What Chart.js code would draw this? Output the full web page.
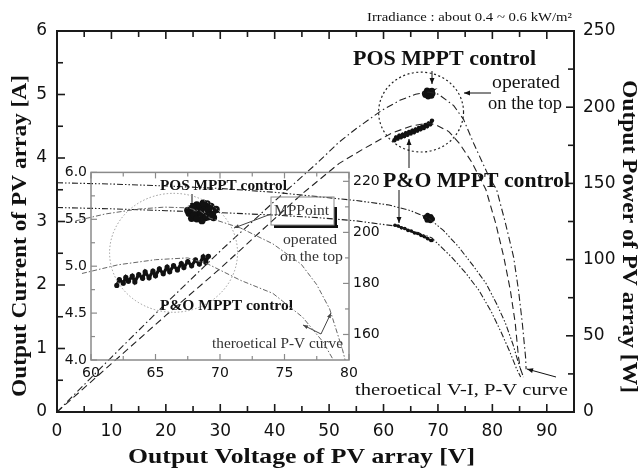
<!DOCTYPE html>
<html>
<head>
<meta charset="utf-8">
<script src="https://cdn.jsdelivr.net/npm/chart.js@4.4.1/dist/chart.umd.min.js"></script>
<style>
  html, body { margin: 0; padding: 0; background: #fff; }
  #wrap { position: relative; width: 641px; height: 468px; }
  #main { position: absolute; left: 0; top: 0; }
  #inset { position: absolute; left: 40px; top: 160px; }
</style>
</head>
<body>
<div id="wrap">
  <canvas id="main" width="641" height="468"></canvas>
  <canvas id="inset" width="350" height="230"></canvas>
</div>
<script>
// ---- values ----
// main plot: [voltage V, current A] and [voltage V, power W]
const ivPOS = [[0,3.61],[10,3.59],[20,3.56],[30,3.52],[40,3.46],[48,3.39],[55,3.33],[61,3.26],[65,3.17],[68.3,3.05],[71,2.86],[73.8,2.60],[76.5,2.30],[78.8,2.03],[80.8,1.70],[82.4,1.40],[83.8,1.06],[84.8,0.77],[85.7,0.55]];
const ivPO = [[0,3.22],[10,3.20],[20,3.17],[30,3.14],[40,3.10],[48,3.06],[55,3.01],[62,2.93],[66.5,2.82],[68.9,2.74],[72.5,2.44],[75,2.20],[77.5,1.92],[79.8,1.58],[81.7,1.24],[83.2,0.95],[84.4,0.69],[85.2,0.55]];
const pvPOS = [[0,0],[10,35.9],[20,71.2],[30,105.6],[40,138.4],[48,164],[51.8,177],[55,186],[59.7,198],[63,204.5],[65.9,208.5],[68.3,210],[70.1,208.5],[72.9,201],[74.7,192],[76.6,176],[78,165],[79.3,155],[80.8,145.7],[82.4,124],[83.9,101.7],[84.8,80],[85.5,58.4],[86.1,36],[86.2,28]];
const pvPO = [[0,0],[10,31.7],[20,63.4],[30,94.2],[37.7,119.4],[45,143],[51.8,163],[56,172],[61.5,183],[65,187.5],[68,189.5],[69.6,188.5],[72,184],[74,176],[76.2,164],[78.8,146],[80.6,124],[82.1,101.7],[83.3,80],[84.2,58.4],[84.8,36],[85.2,27.5]];

// measured operating points (main plot)
const posPower = [[67.6,209],[68.0,211],[68.6,210.5],[69.0,209],[68.8,207.5],[68.2,207],[67.7,208],[68.4,209.5],[68.9,210.8],[67.9,210],[68.5,208.3],[68.1,209.8]];
const posCurrent = [[67.7,3.07],[68.1,3.10],[68.7,3.08],[69.0,3.04],[68.6,3.01],[68.0,3.02],[68.3,3.06],[68.8,3.06],[67.9,3.05]];
const poPower = [[62.0,178.3],[62.3,180.2],[62.6,179.4],[62.9,181.3],[63.2,180.3],[63.5,182.0],[63.8,181.0],[64.1,182.9],[64.4,181.9],[64.7,183.7],[65.0,182.8],[65.3,184.6],[65.6,183.6],[65.9,185.4],[66.2,184.6],[66.5,186.4],[66.8,185.5],[67.1,187.2],[67.4,186.4],[67.7,188.3],[68.0,187.5],[68.3,189.4],[68.6,188.8],[68.9,191.2]];
const poCurrent = [[62.1,2.94],[62.7,2.93],[63.3,2.90],[63.9,2.89],[64.5,2.86],[65.1,2.85],[65.7,2.82],[66.3,2.81],[66.9,2.78],[67.5,2.76],[68.1,2.73],[68.7,2.70],[68.9,2.70]];

// inset (zoom on the power peak): [voltage V, power W]
const insetPvPOS = [[57.6,203],[58.8,204.5],[61.1,207.2],[63.6,209.1],[65.7,209.9],[67.5,209.6],[68.5,208.3],[69.2,205.6],[71.6,201.7],[74.1,195.5],[76.3,187.5],[77.5,179.5],[78.5,170],[79.5,154],[79.8,148]];
const insetPvPO = [[57.6,181.6],[59.3,183.9],[62.1,187.3],[65,189.3],[67.5,190],[69.1,187.5],[71.6,181.2],[74.1,176.1],[76.4,166.8],[78,157],[78.9,149]];
const insetPosPower = [[67.6,207.5],[68.2,210.8],[69.0,211.2],[69.7,209.0],[69.5,205.8],[68.6,204.6],[67.8,205.5],[67.5,208.6],[68.3,209.6],[69.1,208.7],[68.9,206.4],[68.0,206.9],[68.5,208.2],[67.9,209.9],[69.3,210.2],[68.7,211.5],[68.2,205.3],[69.4,207.1]];
const insetPoPower = [[62.0,179.2],[62.2,181.5],[62.5,180.1],[62.7,182.4],[62.9,180.9],[63.2,182.9],[63.4,180.6],[63.7,183.5],[64.0,182.0],[64.2,184.5],[64.5,182.2],[64.8,184.8],[65.0,183.0],[65.3,185.7],[65.6,183.8],[65.9,186.4],[66.1,184.6],[66.4,187.0],[66.7,185.3],[67.0,187.8],[67.2,186.2],[67.5,188.6],[67.8,186.9],[68.1,189.2],[68.4,187.6],[68.7,190.4],[68.9,188.3],[69.1,190.6]];

// tick labels
const voltTicks = [0, 10, 20, 30, 40, 50, 60, 70, 80, 90];
const voltMinor = [5, 15, 25, 35, 45, 55, 65, 75, 85];
const currentTicks = [0, 1, 2, 3, 4, 5, 6];
const currentMinor = [0.5, 1.5, 2.5, 3.5, 4.5, 5.5];
const powerTicks = [0, 50, 100, 150, 200, 250];
const powerMinor = [25, 75, 125, 175, 225];
const insetVoltTicks = [60, 65, 70, 75, 80];
const insetVoltMinor = [62.5, 67.5, 72.5, 77.5];
const insetLeftTicks = [4.0, 4.5, 5.0, 5.5, 6.0];
const insetLeftMinor = [4.25, 4.75, 5.25, 5.75];
const insetPowerTicks = [160, 180, 200, 220];
const insetPowerMinor = [170, 190, 210];

// ---- helpers ----
const pts = arr => arr.map(([x, y]) => ({ x, y }));

function curve(arr, axis, dash, color, width) {
  return { data: pts(arr), yAxisID: axis, showLine: true, pointRadius: 0,
    borderColor: color, borderWidth: width, borderDash: dash, fill: false, clip: { left: 40, top: 0, right: 0, bottom: 0 } };
}
function cluster(arr, axis, radius, width) {
  return { data: pts(arr), yAxisID: axis, showLine: true, pointRadius: radius,
    pointBackgroundColor: '#111', pointBorderWidth: 0, borderColor: '#111', borderWidth: width };
}

function fitText(ctx, t) {
  ctx.save();
  ctx.font = t.font;
  ctx.fillStyle = t.color || '#111';
  ctx.textBaseline = 'alphabetic';
  ctx.textAlign = 'left';
  ctx.translate(t.x, t.y);
  if (t.rot) ctx.rotate(t.rot);
  const natural = ctx.measureText(t.text).width;
  ctx.scale(t.w / natural, 1);
  ctx.fillText(t.text, 0, 0);
  ctx.restore();
}

function drawArrow(ctx, a) {
  const [x1, y1] = a.from, [x2, y2] = a.to;
  ctx.save();
  ctx.strokeStyle = ctx.fillStyle = a.color || '#111';
  ctx.lineWidth = a.width || 1;
  ctx.beginPath(); ctx.moveTo(x1, y1); ctx.lineTo(x2, y2); ctx.stroke();
  if (a.head !== false) {
    const ang = Math.atan2(y2 - y1, x2 - x1), L = a.len || 6, W = a.half || 2.5;
    ctx.beginPath();
    ctx.moveTo(x2, y2);
    ctx.lineTo(x2 - L * Math.cos(ang) + W * Math.sin(ang), y2 - L * Math.sin(ang) - W * Math.cos(ang));
    ctx.lineTo(x2 - L * Math.cos(ang) - W * Math.sin(ang), y2 - L * Math.sin(ang) + W * Math.cos(ang));
    ctx.closePath(); ctx.fill();
  }
  ctx.restore();
}

// frame + inward tick marks, placed through the chart's scales
const frameTicks = {
  id: 'frameTicks',
  afterDraw(chart, args, opts) {
    const { ctx, chartArea: a, scales } = chart;
    ctx.save();
    ctx.strokeStyle = opts.color;
    ctx.lineWidth = opts.tickWidth;
    opts.marks.forEach(m => {
      const s = scales[m.scale];
      [[m.major, opts.major], [m.minor, opts.minor]].forEach(([vals, len]) => {
        vals.forEach(v => {
          const p = s.getPixelForValue(v);
          m.edges.forEach(e => {
            ctx.beginPath();
            if (e === 'bottom') { ctx.moveTo(p, a.bottom); ctx.lineTo(p, a.bottom - len); }
            if (e === 'top') { ctx.moveTo(p, a.top); ctx.lineTo(p, a.top + len); }
            if (e === 'left') { ctx.moveTo(a.left, p); ctx.lineTo(a.left + len, p); }
            if (e === 'right') { ctx.moveTo(a.right, p); ctx.lineTo(a.right - len, p); }
            ctx.stroke();
          });
        });
      });
    });
    ctx.lineWidth = opts.frameWidth;
    ctx.strokeRect(a.left, a.top, a.right - a.left, a.bottom - a.top);
    ctx.restore();
  }
};

// dotted ellipses given in data units
const ellipses = {
  id: 'ellipses',
  afterDatasetsDraw(chart, args, opts) {
    const { ctx, scales } = chart;
    (opts.list || []).forEach(e => {
      const sx = scales[e.xScale], sy = scales[e.yScale];
      const cx = sx.getPixelForValue(e.cx), cy = sy.getPixelForValue(e.cy);
      const rx = Math.abs(sx.getPixelForValue(e.cx + e.rx) - cx);
      const ry = Math.abs(sy.getPixelForValue(e.cy + e.ry) - cy);
      ctx.save();
      ctx.strokeStyle = e.color; ctx.lineWidth = e.width; ctx.setLineDash(e.dash);
      ctx.beginPath(); ctx.ellipse(cx, cy, rx, ry, 0, 0, Math.PI * 2); ctx.stroke();
      ctx.restore();
    });
  }
};

// texts, arrows and the MPPoint box
const notes = {
  id: 'notes',
  afterDraw(chart, args, opts) {
    const ctx = chart.ctx;
    (opts.boxes || []).forEach(b => {
      ctx.save();
      ctx.fillStyle = '#111';
      ctx.fillRect(b.x + 3, b.y + b.h, b.w + 1, 3);
      ctx.fillRect(b.x + b.w, b.y + 10, 3, b.h - 7);
      ctx.strokeStyle = '#888'; ctx.lineWidth = 1;
      ctx.strokeRect(b.x, b.y, b.w, b.h);
      ctx.restore();
    });
    (opts.texts || []).forEach(t => fitText(ctx, t));
    (opts.arrows || []).forEach(a => drawArrow(ctx, a));
  }
};

const serif = '"Liberation Serif", "Times New Roman", serif';
const tickFont = { family: 'DejaVu Sans', size: 17 };
const insetTickFont = { family: 'DejaVu Sans', size: 14 };
const setTicks = list => s => { s.ticks = list.map(v => ({ value: v })); };

const DASH_IV = [6, 2, 1.5, 2, 1.5, 2];
const DASH_PV1 = [7, 3, 1.5, 3];
const DASH_PV2 = [7, 4];

new Chart(document.getElementById('main'), {
  type: 'scatter',
  data: {
    datasets: [
      curve(ivPOS, 'yI', DASH_IV, '#222', 1.1),
      curve(ivPO, 'yI', DASH_IV, '#222', 1.1),
      curve(pvPOS, 'yP', DASH_PV1, '#222', 1.1),
      curve(pvPO, 'yP', DASH_PV2, '#222', 1.1),
      cluster(posPower, 'yP', 3, 2.5),
      cluster(posCurrent, 'yI', 2.5, 2.5),
      cluster(poPower, 'yP', 2.2, 3),
      cluster(poCurrent, 'yI', 1.8, 2)
    ]
  },
  options: {
    responsive: false,
    animation: false,
    devicePixelRatio: 1,
    layout: { padding: { top: 31, left: 0, right: 0, bottom: 0 } },
    plugins: {
      legend: { display: false },
      tooltip: { enabled: false },
      frameTicks: {
        color: '#1a1a1a', tickWidth: 1.6, frameWidth: 2, major: 8, minor: 6,
        marks: [
          { scale: 'x', edges: ['bottom', 'top'], major: voltTicks, minor: voltMinor },
          { scale: 'yI', edges: ['left'], major: currentTicks, minor: currentMinor },
          { scale: 'yP', edges: ['right'], major: powerTicks, minor: powerMinor }
        ]
      },
      ellipses: {
        list: [{ xScale: 'x', yScale: 'yP', cx: 66.9, cy: 196.8, rx: 7.8, ry: 26.2, color: '#222', width: 1.2, dash: [2, 2.5] }]
      },
      notes: {
        boxes: [{ x: 271, y: 197, w: 63, h: 28 }],
        texts: [
          { text: 'Irradiance : about 0.4 ~ 0.6 kW/m²', x: 367, y: 21, w: 205, font: '13px ' + serif },
          { text: 'POS MPPT control', x: 353, y: 65, w: 183, font: 'bold 20px ' + serif },
          { text: 'operated', x: 492, y: 88, w: 68, font: '18px ' + serif },
          { text: 'on the top', x: 488, y: 109, w: 74, font: '18px ' + serif },
          { text: 'P&O MPPT control', x: 383, y: 187, w: 187, font: 'bold 20px ' + serif },
          { text: 'theroetical V-I, P-V curve', x: 355, y: 395, w: 213, font: '17px ' + serif },
          { text: 'Output Voltage of PV array [V]', x: 128, y: 463, w: 347, font: 'bold 21px ' + serif },
          { text: 'Output Current of PV array [A]', x: 26, y: 397, w: 322, rot: -Math.PI / 2, font: 'bold 21px ' + serif },
          { text: 'Output Power of PV array [W]', x: 623, y: 80, w: 313, rot: Math.PI / 2, font: 'bold 21px ' + serif },
          // inset annotations
          { text: 'POS MPPT control', x: 160, y: 190, w: 127, font: 'bold 14px ' + serif },
          { text: 'MPPoint', x: 274, y: 215, w: 55, font: '15px ' + serif, color: '#333' },
          { text: 'operated', x: 283, y: 244, w: 54, font: '15px ' + serif, color: '#333' },
          { text: 'on the top', x: 280, y: 261, w: 63, font: '15px ' + serif, color: '#333' },
          { text: 'P&O MPPT control', x: 160, y: 310, w: 133, font: 'bold 14px ' + serif },
          { text: 'theroetical P-V curve', x: 212, y: 348, w: 131, font: '14px ' + serif, color: '#333' }
        ],
        arrows: [
          { from: [432, 71], to: [432, 84] },
          { from: [491, 93], to: [464, 93] },
          { from: [409, 168], to: [409, 139] },
          { from: [399, 190], to: [399, 223] },
          { from: [556, 377], to: [527, 369] },
          { from: [192, 194], to: [192, 208], len: 5, half: 2 },
          { from: [271, 214], to: [234, 228], color: '#444', len: 5, half: 2 },
          { from: [321, 334], to: [303, 325], color: '#444', len: 5, half: 2 },
          { from: [321, 334], to: [331, 313], color: '#444', len: 5, half: 2 }
        ]
      }
    },
    scales: {
      x: {
        type: 'linear', position: 'bottom', min: 0, max: 95,
        grid: { display: false, drawTicks: false }, border: { display: false },
        ticks: { font: tickFont, color: '#111', padding: 9, maxRotation: 0, autoSkip: false },
        afterBuildTicks: setTicks(voltTicks),
        afterFit: s => { s.height = 56; }
      },
      yI: {
        type: 'linear', position: 'left', min: 0, max: 6,
        grid: { display: false, drawTicks: false }, border: { display: false },
        ticks: { font: tickFont, color: '#111', padding: 10, autoSkip: false },
        afterBuildTicks: setTicks(currentTicks),
        afterFit: s => { s.width = 57; }
      },
      yP: {
        type: 'linear', position: 'right', min: 0, max: 250,
        grid: { display: false, drawTicks: false }, border: { display: false },
        ticks: { font: tickFont, color: '#111', padding: 9, autoSkip: false },
        afterBuildTicks: setTicks(powerTicks),
        afterFit: s => { s.width = 67; }
      }
    }
  },
  plugins: [frameTicks, ellipses, notes]
});

// inset: zoom on the maximum power region
new Chart(document.getElementById('inset'), {
  type: 'scatter',
  data: {
    datasets: [
      curve(insetPvPOS, 'yR', [5, 2, 1.5, 2], '#666', 1),
      curve(insetPvPO, 'yR', [5, 2, 1.5, 2], '#666', 1),
      cluster(insetPosPower, 'yR', 3.6, 3),
      cluster(insetPoPower, 'yR', 2.6, 3.2)
    ]
  },
  options: {
    responsive: false,
    animation: false,
    devicePixelRatio: 1,
    layout: { padding: { top: 11, left: 0, right: 0, bottom: 0 } },
    plugins: {
      legend: { display: false },
      tooltip: { enabled: false },
      frameTicks: {
        color: '#8a8a8a', tickWidth: 1.2, frameWidth: 1.5, major: 6, minor: 4,
        marks: [
          { scale: 'x', edges: ['bottom', 'top'], major: insetVoltTicks, minor: insetVoltMinor },
          { scale: 'yL', edges: ['left'], major: insetLeftTicks, minor: insetLeftMinor },
          { scale: 'yR', edges: ['right'], major: insetPowerTicks, minor: insetPowerMinor }
        ]
      },
      ellipses: {
        list: [{ xScale: 'x', yScale: 'yR', cx: 66.4, cy: 192, rx: 4.96, ry: 23.3, color: '#999', width: 1, dash: [1.5, 2] }]
      }
    },
    scales: {
      x: {
        type: 'linear', position: 'bottom', min: 60, max: 80,
        grid: { display: false, drawTicks: false }, border: { display: false },
        ticks: { font: insetTickFont, color: '#111', padding: 5, maxRotation: 0, autoSkip: false },
        afterBuildTicks: setTicks(insetVoltTicks),
        afterFit: s => { s.height = 30; }
      },
      yL: {
        type: 'linear', position: 'left', min: 4, max: 6,
        grid: { display: false, drawTicks: false }, border: { display: false },
        ticks: { font: insetTickFont, color: '#111', padding: 4, autoSkip: false, callback: v => v.toFixed(1) },
        afterBuildTicks: setTicks(insetLeftTicks),
        afterFit: s => { s.width = 51; }
      },
      yR: {
        type: 'linear', position: 'right', min: 150, max: 223.5,
        grid: { display: false, drawTicks: false }, border: { display: false },
        ticks: { font: insetTickFont, color: '#111', padding: 4, autoSkip: false },
        afterBuildTicks: setTicks(insetPowerTicks),
        afterFit: s => { s.width = 41; }
      }
    }
  },
  plugins: [frameTicks, ellipses]
});
</script>
</body>
</html>
